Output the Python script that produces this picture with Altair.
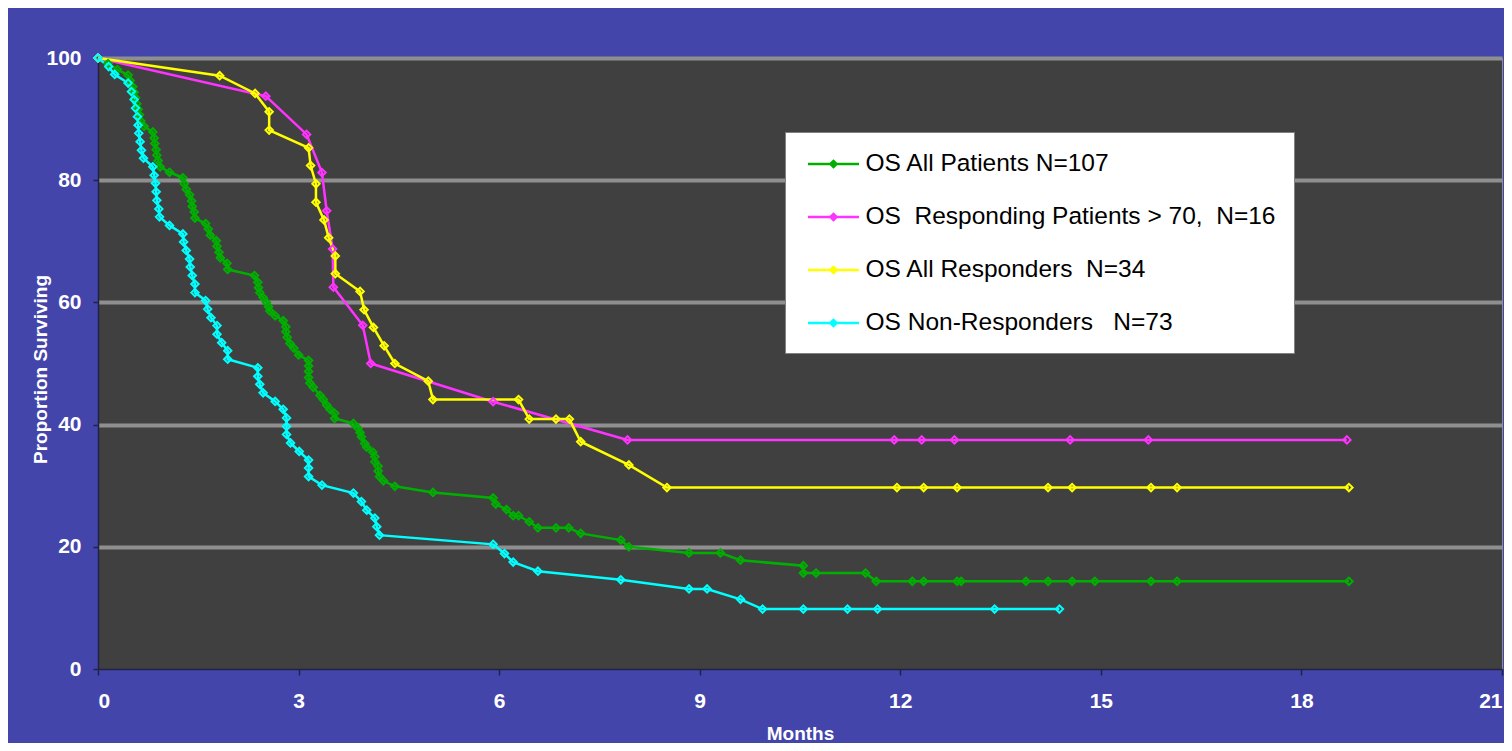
import altair as alt
import pandas as pd

SERIES = [
    "OS All Patients N=107",
    "OS \u00a0Responding Patients > 70, \u00a0N=16",
    "OS All Responders \u00a0N=34",
    "OS Non-Responders \u00a0 N=73",
]
COLORS = ["#00B000", "#FF33FF", "#FFFF00", "#00FFFF"]

X_TICKS = [0, 3, 6, 9, 12, 15, 18, 21]
Y_TICKS = [0, 20, 40, 60, 80, 100]

green_m = [0, 0.15, 0.29, 0.45, 0.48, 0.52, 0.54, 0.56, 0.58, 0.60, 0.62, 0.64, 0.69,
           0.82, 0.84, 0.85, 0.87, 0.88, 0.90, 0.93, 1.07, 1.27, 1.29, 1.32, 1.37, 1.40,
           1.41, 1.44, 1.45, 1.61, 1.65, 1.68, 1.77, 1.78, 1.81, 1.83, 1.93, 1.94, 2.34,
           2.39, 2.40, 2.42, 2.47, 2.52, 2.55, 2.57, 2.65, 2.77, 2.81, 2.81, 2.83, 2.87,
           2.93, 3.00, 3.15, 3.15, 3.15, 3.15, 3.17, 3.22, 3.32, 3.37, 3.42, 3.47, 3.54,
           3.54, 3.82, 3.89, 3.92, 3.94, 3.99, 4.02, 4.11, 4.14, 4.14, 4.19, 4.19, 4.21,
           4.27, 4.44, 5.01, 5.91, 5.95, 6.11, 6.21, 6.29, 6.45, 6.58, 6.85, 7.04, 7.22,
           7.82, 7.94, 8.84, 9.31, 9.61, 10.55, 10.55, 10.74, 11.48, 11.64, 12.18, 12.35,
           12.85, 12.91, 13.88, 14.21, 14.57, 14.91, 15.75, 16.14, 18.71]
green_p = [100, 99.1, 98.1, 97.2, 96.3, 95.3, 94.4, 93.5, 92.5, 91.6, 90.7, 89.7, 88.8,
           87.9, 86.9, 86.0, 85.0, 84.1, 83.2, 82.2, 81.3, 80.4, 79.4, 78.5, 77.6, 76.6,
           75.7, 74.8, 73.8, 72.9, 72.0, 71.0, 70.1, 69.2, 68.2, 67.3, 66.4, 65.4, 64.4,
           63.3, 62.4, 61.6, 60.8, 60.0, 59.3, 58.6, 57.8, 57.0, 56.0, 55.2, 54.3, 53.3,
           52.5, 51.4, 50.5, 49.6, 48.7, 47.7, 46.8, 46.1, 44.8, 44.1, 43.2, 42.5, 41.85,
           41.0, 40.2, 39.4, 38.7, 38.0, 36.9, 36.3, 35.5, 34.75, 33.9, 33.2, 32.4, 31.5,
           30.8, 29.9, 28.9, 28.0, 27.0, 26.1, 25.1, 25.1, 24.1, 23.1, 23.1, 23.1, 22.2,
           21.1, 20.0, 19.0, 19.0, 17.8, 16.9, 15.7, 15.7, 15.7, 14.35, 14.35, 14.35,
           14.35, 14.35, 14.35, 14.35, 14.35, 14.35, 14.35, 14.35, 14.35]

magenta_m = [0, 2.51, 3.12, 3.35, 3.42, 3.51, 3.52, 3.96, 4.08, 5.91, 7.92,
             11.91, 12.32, 12.81, 14.54, 15.71, 18.68]
magenta_p = [100, 93.75, 87.5, 81.25, 75.0, 68.75, 62.5, 56.25, 50.0, 43.75, 37.5,
             37.5, 37.5, 37.5, 37.5, 37.5, 37.5]

yellow_m = [0, 1.82, 2.35, 2.56, 2.56, 3.15, 3.18, 3.26, 3.26, 3.38, 3.45, 3.55, 3.55,
            3.92, 3.98, 4.12, 4.28, 4.44, 4.94, 5.01, 6.29, 6.45, 6.85, 7.05, 7.22, 7.94,
            8.51, 11.95, 12.35, 12.85, 14.21, 14.57, 15.75, 16.14, 18.71]
yellow_p = [100, 97.1, 94.2, 91.2, 88.2, 85.3, 82.4, 79.4, 76.4, 73.5, 70.6, 67.6, 64.7,
            61.8, 58.8, 55.9, 52.9, 50.0, 47.1, 44.1, 44.1, 40.9, 40.9, 40.9, 37.2, 33.4,
            29.7, 29.7, 29.7, 29.7, 29.7, 29.7, 29.7, 29.7, 29.7]

cyan_m = [0, 0.16, 0.25, 0.45, 0.50, 0.54, 0.56, 0.59, 0.60, 0.61, 0.63, 0.65, 0.68,
          0.82, 0.84, 0.86, 0.87, 0.88, 0.91, 0.92, 1.07, 1.27, 1.28, 1.32, 1.37, 1.38,
          1.41, 1.45, 1.45, 1.61, 1.64, 1.69, 1.78, 1.78, 1.85, 1.94, 1.94, 2.39, 2.39,
          2.42, 2.47, 2.65, 2.77, 2.82, 2.82, 2.82, 2.88, 3.01, 3.15, 3.15, 3.15, 3.35,
          3.82, 3.94, 4.02, 4.14, 4.17, 4.21, 5.91, 6.08, 6.21, 6.58, 7.82, 8.84, 9.11,
          9.61, 9.94, 10.55, 11.21, 11.66, 13.41, 14.38]
cyan_p = [100, 98.6, 97.3, 95.9, 94.5, 93.2, 91.8, 90.4, 89.0, 87.7, 86.3, 84.9, 83.6,
          82.2, 80.8, 79.5, 78.1, 76.7, 75.3, 74.0, 72.6, 71.2, 69.9, 68.5, 67.1, 65.8,
          64.4, 63.0, 61.6, 60.3, 58.9, 57.5, 56.2, 54.8, 53.4, 52.1, 50.7, 49.3, 47.9,
          46.6, 45.2, 43.8, 42.5, 41.1, 39.7, 38.4, 37.0, 35.6, 34.2, 32.9, 31.5, 30.1,
          28.8, 27.4, 26.0, 24.7, 23.3, 21.9, 20.4, 18.9, 17.5, 16.0, 14.6, 13.1, 13.1,
          11.4, 9.8, 9.8, 9.8, 9.8, 9.8, 9.8]

rows = []
for s, ms, ps in zip(SERIES, [green_m, magenta_m, yellow_m, cyan_m],
                     [green_p, magenta_p, yellow_p, cyan_p]):
    for i, (m, p) in enumerate(zip(ms, ps)):
        rows.append({"series": s, "idx": i, "month": m, "pct": p})
df = pd.DataFrame(rows)

FONT = "Liberation Sans"
DARK = "#222244"

color = alt.Color(
    "series:N",
    scale=alt.Scale(domain=SERIES, range=COLORS),
    legend=alt.Legend(
        title=None, orient="none", legendX=687, legendY=74,
        fillColor="white", strokeColor="#808080", padding=18,
        labelFont=FONT, labelFontSize=24.5, labelColor="black", labelLimit=0,
        labelOffset=18, symbolOffset=16.5,
        symbolType="M-2,0L2,0M-0.24,0L0,-0.24L0.24,0L0,0.24Z",
        symbolSize=650, symbolStrokeWidth=2.5, rowPadding=27,
    ),
)

x = alt.X(
    "month:Q",
    scale=alt.Scale(domain=[0, 21], nice=False, zero=False),
    axis=alt.Axis(
        values=X_TICKS, grid=False, labelFont=FONT, labelFontSize=21,
        labelFontWeight="bold", labelColor="white", labelPadding=15,
        tickSize=6, tickColor=DARK, tickWidth=1.5, domainColor=DARK, domainWidth=1.5,
        title="Months", titleFont=FONT, titleFontSize=19, titleFontWeight="bold",
        titleColor="white", titleX=702, titleY=64, titleBaseline="middle",
        titleAlign="center",
    ),
)
y = alt.Y(
    "pct:Q",
    scale=alt.Scale(domain=[0, 100], nice=False),
    axis=alt.Axis(
        values=Y_TICKS, grid=True, gridWidth=4,
        gridColor={"condition": {"test": "datum.value === 0", "value": "transparent"},
                   "value": "#8f8f8f"},
        labelFont=FONT, labelFontSize=21, labelFontWeight="bold", labelColor="white",
        labelPadding=12, tickSize=5, tickColor=DARK, tickWidth=1.5,
        domainColor=DARK, domainWidth=1.5,
        title="Proportion Surviving", titleFont=FONT, titleFontSize=19,
        titleFontWeight="bold", titleColor="white", titleX=-58, titleY=311,
        titleAngle=270, titleBaseline="middle", titleAlign="center",
    ),
)

lines = alt.Chart(df).mark_line(strokeWidth=2.5).encode(
    x=x, y=y, color=color, order=alt.Order("idx:Q")
)
points = alt.Chart(df).mark_point(
    shape="diamond", filled=False, size=55, strokeWidth=2, opacity=1
).encode(x=x, y=y, color=color)

chart = (
    alt.layer(lines, points)
    .properties(
        width=1404, height=611, background="#4345AB",
        padding={"left": 90, "top": 50, "right": 2, "bottom": 74},
        autosize=alt.AutoSizeParams(type="none"),
    )
    .configure_view(fill="#404040", stroke="#8c8c8c", strokeWidth=1)
)

chart.save("out.html", embed_options={"renderer": "svg", "actions": False})
